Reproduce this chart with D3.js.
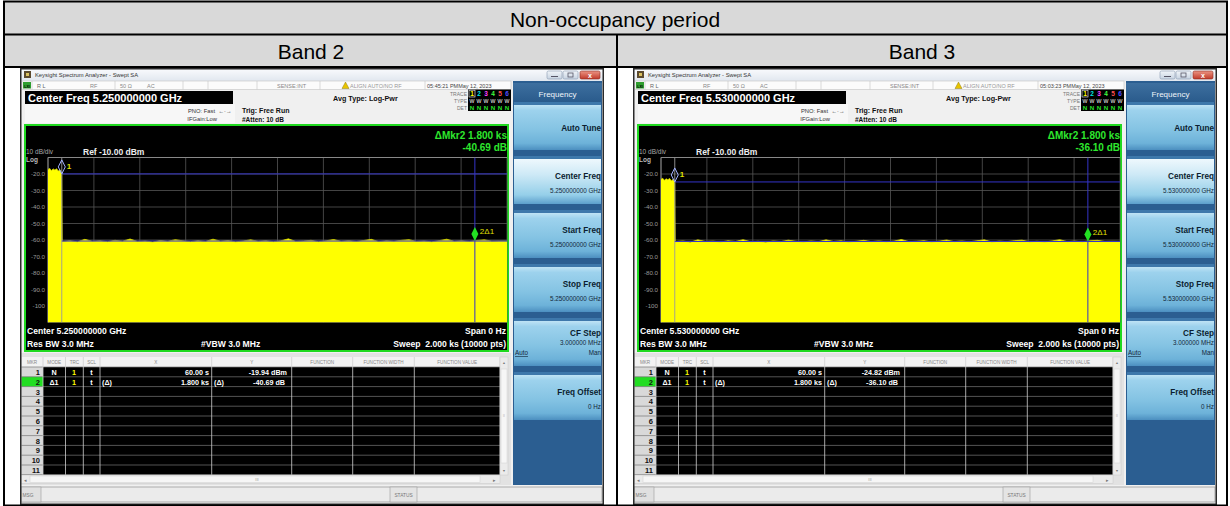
<!DOCTYPE html>
<html><head><meta charset="utf-8">
<script src="https://cdn.jsdelivr.net/npm/d3@7"></script>
<style>
body{margin:0;background:#fff;}
svg{display:block;font-family:"Liberation Sans",Arial,sans-serif;}
</style></head><body>
<svg id="c" width="1230" height="506"></svg>
<script>
// ---------------- data ----------------
const tableTitle = "Non-occupancy period";
const bandNames = ["Band 2", "Band 3"];
const centerFreqs = ["5.250000000 GHz", "5.530000000 GHz"];
const timeStamps = ["05:45:21 PM", "05:03:23 PM"];
const dateStamp = "May 12, 2023";
const marker1Time = [60, 60];            // s
const markerDeltaTime = [1800, 1800];    // s
const marker1Level = [-19.94, -24.82];   // dBm
const markerDeltaLevel = [-40.69, -36.10]; // dB
const sweepTime = 2000;                  // s
const refLevel = -10;
const bottomLevel = -110;
const yTickValues = [-20, -30, -40, -50, -60, -70, -80, -90, -100];
const band2Start = [-17.2, -16.6, -17.9, -16.9, -17.5, -16.8, -18.2, -17.4, -19.9];
const band3Start = [-23.2, -22.6, -23.8, -22.9, -23.5, -22.7, -24.1, -23.3, -24.8];
const band2Noise = [-60.9,-60.4,-61.1,-59.6,-60.8,-60.5,-61.0,-60.2,-60.7,-59.4,-60.9,-60.6,-61.2,-60.3,-60.8,-59.8,-60.5,-61.0,-60.4,-60.9,-59.5,-60.7,-60.3,-61.1,-60.6,-59.9,-60.8,-60.4,-61.0,-60.5,-59.3,-60.9,-60.6,-60.2,-61.0,-60.5,-59.7,-60.8,-60.4,-60.9,-60.3,-59.6,-61.0,-60.5,-60.8,-60.2,-59.8,-60.9,-60.6,-61.1,-60.4,-59.5,-60.8,-60.5,-60.9,-60.3,-59.9,-60.7,-60.6,-60.6];
const band3Noise = [-61.0,-60.6,-61.3,-59.9,-60.9,-60.7,-61.2,-60.5,-60.9,-59.8,-61.1,-60.8,-61.3,-60.6,-61.0,-60.1,-60.8,-61.2,-60.6,-61.0,-59.9,-60.9,-60.5,-61.2,-60.8,-60.2,-61.0,-60.6,-61.1,-60.7,-59.7,-61.0,-60.8,-60.4,-61.2,-60.7,-60.0,-61.0,-60.6,-61.1,-60.5,-59.9,-61.2,-60.7,-61.0,-60.4,-60.1,-61.1,-60.8,-61.2,-60.6,-59.8,-61.0,-60.7,-61.1,-60.5,-60.2,-60.9,-60.8,-60.9];
const startTraces = [band2Start, band3Start];
const noiseTraces = [band2Noise, band3Noise];
const softkeyLabels = ["Auto Tune", "Center Freq", "Start Freq", "Stop Freq", "CF Step", "Freq Offset"];
const cfStep = "3.000000 MHz";
const freqOffset = "0 Hz";
const tableHeaders = ["MKR", "MODE", "TRC", "SCL", "X", "Y", "FUNCTION", "FUNCTION WIDTH", "FUNCTION VALUE"];

// ---------------- helpers ----------------
const svg = d3.select("#c");
const defs = svg.append("defs");
function lg(id, stops) {
  const gr = defs.append("linearGradient").attr("id", id).attr("x1", 0).attr("y1", 0).attr("x2", 0).attr("y2", 1);
  stops.forEach(([o, c]) => gr.append("stop").attr("offset", o).attr("stop-color", c));
}
lg("titleG", [[0, "#fbfcfe"], [1, "#e1e7ef"]]);
lg("btnG", [[0, "#bfe3f5"], [0.12, "#9dd2ed"], [0.55, "#84c3e3"], [0.85, "#6db2d9"], [1, "#4c8fc0"]]);
lg("btnSelG", [[0, "#eef8fd"], [0.35, "#cde9f6"], [0.8, "#95cfe9"], [1, "#5c9ecb"]]);
lg("hdrG", [[0, "#3d6f9f"], [1, "#28598a"]]);
lg("minG", [[0, "#f1f5f9"], [1, "#c7d3e1"]]);
lg("closeG", [[0, "#ec9584"], [1, "#c13a2a"]]);

function T(g, x, y, s, o = {}) {
  const t = g.append("text").attr("x", x).attr("y", y).text(s)
    .attr("font-size", o.size || 7).attr("fill", o.fill || "#000")
    .attr("text-anchor", o.anchor || "start")
    .attr("font-weight", o.bold ? "bold" : "normal");
  if (o.pre) t.attr("xml:space", "preserve").style("white-space", "pre");
  return t;
}
function R(g, x, y, w, h, fill, stroke, sw) {
  const r = g.append("rect").attr("x", x).attr("y", y).attr("width", w).attr("height", h).attr("fill", fill);
  if (stroke) r.attr("stroke", stroke).attr("stroke-width", sw || 1);
  return r;
}
function L(g, x1, y1, x2, y2, c, w) {
  return g.append("line").attr("x1", x1).attr("y1", y1).attr("x2", x2).attr("y2", y2).attr("stroke", c).attr("stroke-width", w || 1);
}

// ---------------- outer table ----------------
R(svg, 4, 2, 1223, 65, "#d9d9d9");
T(svg, 615, 27, tableTitle, {size: 21, anchor: "middle"});
const bandCenters = [311, 922];
bandNames.forEach((b, i) => T(svg, bandCenters[i], 59, b, {size: 21, anchor: "middle"}));

// ---------------- analyzer screen ----------------
function drawScreen(i, ox, oy) {
  const g = svg.append("g").attr("transform", `translate(${ox},${oy})`);
  const W = 584, H = 437;
  R(g, 0, 0, W, H, "#f0f0f0");
  // title bar
  R(g, 0, 0, W, 13, "url(#titleG)");
  R(g, 4, 3, 7, 7, "#5b4a2e");
  R(g, 6, 5, 3, 3, "#d8c060");
  T(g, 15, 9, "Keysight Spectrum Analyzer - Swept SA", {size: 5.8, fill: "#333"});
  R(g, 527, 3, 15, 8, "url(#minG)", "#8798ae", 0.6).attr("rx", 1.5);
  R(g, 543, 3, 15, 8, "url(#minG)", "#8798ae", 0.6).attr("rx", 1.5);
  R(g, 560, 3, 20, 8, "url(#closeG)", "#8a2a20", 0.6).attr("rx", 1.5);
  L(g, 531, 8.5, 538, 8.5, "#556", 1);
  R(g, 548, 5, 5, 4, "none", "#556", 0.8);
  T(g, 570, 10, "x", {size: 7, fill: "#fff", anchor: "middle", bold: true});

  // status row
  R(g, 2, 13, 489, 8.5, "#fbfbfb", "#c4c4c4", 0.6);
  [12, 95, 163, 188, 237, 300, 405].forEach(xx => L(g, xx, 13, xx, 21.5, "#c4c4c4", 0.6));
  R(g, 3, 14, 8, 6.5, "#2f9e2f");
  T(g, 7, 19.5, "LXI", {size: 3.5, fill: "#000", anchor: "middle", bold: true});
  T(g, 17, 19.6, "R L", {size: 5.5, fill: "#666"});
  T(g, 70, 19.6, "RF", {size: 5.5, fill: "#888"});
  T(g, 100, 19.6, "50 Ω", {size: 5.5, fill: "#888"});
  T(g, 127, 19.6, "AC", {size: 5.5, fill: "#888"});
  T(g, 257, 19.6, "SENSE:INT", {size: 5.5, fill: "#888"});
  g.append("path").attr("d", "M322,20.5 L325.5,14 L329,20.5 Z").attr("fill", "#e8c400").attr("stroke", "#7a6400").attr("stroke-width", 0.4);
  T(g, 330, 19.6, "ALIGN AUTO/NO RF", {size: 5.5, fill: "#999"});
  T(g, 407, 19.6, timeStamps[i] + "May " + dateStamp.slice(4), {size: 5.5, fill: "#444"});

  // centre freq box
  R(g, 5, 23, 208, 13, "#000");
  T(g, 8, 33.5, "Center Freq " + centerFreqs[i], {size: 11, fill: "#fff", bold: true});
  R(g, 5, 36, 210, 19, "#f7f7f7");
  T(g, 195, 44.5, "PNO: Fast", {size: 5.8, fill: "#333", anchor: "end"});
  T(g, 205, 44.5, "←·→", {size: 5.5, fill: "#333", anchor: "middle"});
  T(g, 197, 53, "IFGain:Low", {size: 5.8, fill: "#333", anchor: "end"});
  T(g, 222, 45, "Trig: Free Run", {size: 7, fill: "#111", bold: true});
  T(g, 222, 53.5, "#Atten: 10 dB", {size: 6.5, fill: "#111", bold: true});
  T(g, 313, 33, "Avg Type: Log-Pwr", {size: 7.2, fill: "#111", bold: true});

  // trace block
  T(g, 447, 27.5, "TRACE", {size: 5, fill: "#777", anchor: "end"});
  T(g, 447, 34.5, "TYPE", {size: 5, fill: "#777", anchor: "end"});
  T(g, 447, 41.5, "DET", {size: 5, fill: "#777", anchor: "end"});
  R(g, 448, 21.5, 43, 21.5, "#000");
  const trColors = ["#ffff00", "#00e5e5", "#ff40ff", "#40ff40", "#ff5050", "#5050ff"];
  trColors.forEach((c, k) => {
    T(g, 452 + k * 7, 28.2, String(k + 1), {size: 6.5, fill: c, bold: true, anchor: "middle"});
    T(g, 452 + k * 7, 35, "W", {size: 5.2, fill: "#fff", anchor: "middle"});
    T(g, 452 + k * 7, 42, "N", {size: 6.2, fill: "#28e028", bold: true, anchor: "middle"});
  });
  R(g, 449, 22.2, 6, 6.8, "none", "#fff", 0.6);

  // graph frame
  R(g, 5, 57, 483, 226, "#000", "#1fd91f", 2);
  const gx0 = 28, gx1 = 487, gy0 = 89.5, gy1 = 254.5;
  const x = d3.scaleLinear().domain([0, sweepTime]).range([gx0, gx1]);
  const y = d3.scaleLinear().domain([bottomLevel, refLevel]).range([gy1, gy0]);

  T(g, 6, 86, "10 dB/div", {size: 6.5, fill: "#aaa"});
  T(g, 6, 93.5, "Log", {size: 6.5, fill: "#bbb", bold: true});
  T(g, 63, 86.5, "Ref " + refLevel.toFixed(2) + " dBm", {size: 8.5, fill: "#eee", bold: true});

  const m2Time = marker1Time[i] + markerDeltaTime[i];
  const m2Level = marker1Level[i] + markerDeltaLevel[i];
  T(g, 487, 71, "ΔMkr2 " + (markerDeltaTime[i] / 1000).toFixed(3) + " ks", {size: 10, fill: "#2ee82e", bold: true, anchor: "end"});
  T(g, 487, 83, markerDeltaLevel[i].toFixed(2) + " dB", {size: 10, fill: "#2ee82e", bold: true, anchor: "end"});

  // grid
  const grid = g.append("g");
  x.ticks(10).forEach(tv => L(grid, x(tv), gy0, x(tv), gy1, "#555", 0.8));
  y.ticks(10).forEach(tv => L(grid, gx0, y(tv), gx1, y(tv), "#555", 0.8));
  L(grid, gx0, gy0, gx1, gy0, "#888", 1);
  L(grid, gx0, gy0, gx0, gy1, "#888", 1);

  // y axis labels
  const ax = g.append("g").attr("transform", `translate(${gx0 - 1},0)`)
    .call(d3.axisLeft(y).tickValues(yTickValues).tickSize(0).tickPadding(2)
      .tickFormat(d => d <= -100 ? String(d) : d.toFixed(1)));
  ax.select(".domain").remove();
  ax.selectAll("text").attr("fill", "#9a9a9a").attr("font-size", 6.2)
    .attr("font-family", "'Liberation Sans',Arial,sans-serif");

  // trace
  const st = startTraces[i], nz = noiseTraces[i];
  const pts = st.map((v, k) => ({t: k * marker1Time[i] / (st.length - 1), v}))
    .concat(nz.map((v, k) => ({t: marker1Time[i] + 2 + k * (sweepTime - marker1Time[i] - 2) / (nz.length - 1), v})));
  const clipId = "clip" + i;
  defs.append("clipPath").attr("id", clipId).append("rect").attr("x", gx0).attr("y", gy0).attr("width", gx1 - gx0).attr("height", gy1 - gy0);
  const tg = g.append("g").attr("clip-path", `url(#${clipId})`);
  tg.append("path").datum(pts).attr("fill", "#ffff00")
    .attr("d", d3.area().x(d => x(d.t)).y0(y(bottomLevel)).y1(d => y(d.v)));
  tg.append("path").datum(pts).attr("fill", "none").attr("stroke", "#d6d600").attr("stroke-width", 0.8)
    .attr("d", d3.line().x(d => x(d.t)).y(d => y(d.v)));

  // marker lines
  L(tg, x(marker1Time[i]), y(marker1Level[i]), gx1, y(marker1Level[i]), "#3434c8", 1);
  L(tg, x(marker1Time[i]), y(m2Level), gx1, y(m2Level), "#3434c8", 1);
  L(tg, x(marker1Time[i]), gy0, x(marker1Time[i]), gy1, "#9a9a9a", 0.9);
  L(tg, x(m2Time), gy0, x(m2Time), gy1, "#3434c8", 1);

  // marker diamonds
  const d1x = x(marker1Time[i]), d1y = y(marker1Level[i]);
  g.append("path").attr("d", `M${d1x},${d1y} L${d1x + 3.5},${d1y - 7} L${d1x},${d1y - 14} L${d1x - 3.5},${d1y - 7} Z`)
    .attr("fill", "none").attr("stroke", "#a0b0ff").attr("stroke-width", 1);
  T(g, d1x + 5, d1y - 5, "1", {size: 8, fill: "#e0e000", bold: true});
  const d2x = x(m2Time), d2y = y(m2Level);
  g.append("path").attr("d", `M${d2x},${d2y} L${d2x + 3.5},${d2y - 7} L${d2x},${d2y - 14} L${d2x - 3.5},${d2y - 7} Z`)
    .attr("fill", "#22e022");
  T(g, d2x + 5, d2y - 7, "2Δ1", {size: 8, fill: "#e0e000"});

  // bottom annotations
  T(g, 7, 266, "Center " + centerFreqs[i], {size: 8.6, fill: "#fff", bold: true});
  T(g, 7, 278.5, "Res BW 3.0 MHz", {size: 8.6, fill: "#fff", bold: true});
  T(g, 181, 278.5, "#VBW 3.0 MHz", {size: 8.6, fill: "#fff", bold: true});
  T(g, 486, 266, "Span 0 Hz", {size: 8.6, fill: "#fff", bold: true, anchor: "end"});
  T(g, 486, 278.5, "Sweep  " + (sweepTime / 1000).toFixed(3) + " ks (10000 pts)", {size: 8.6, fill: "#fff", bold: true, anchor: "end", pre: true});

  // marker table
  R(g, 1, 285, 490, 132, "#e2e2e2");
  const cols = [1, 23, 45.5, 63.3, 80, 191.7, 271.7, 332.7, 394.3, 480];
  const hy = 289, rowH = 9.8, nRows = 11, ry0 = 299;
  R(g, 1, hy, 479, 10, "#f2f2f2");
  tableHeaders.forEach((h, k) => T(g, (cols[k] + cols[k + 1]) / 2, hy + 7, h, {size: 4.6, fill: "#888", anchor: "middle"}));
  R(g, 1, ry0, 479, rowH * nRows, "#000");
  R(g, 1, ry0, 22, rowH * nRows, "#d9d9d9");
  R(g, 1, ry0 + rowH, 22, rowH, "#22dd22");
  for (let r = 0; r <= nRows; r++) L(g, 1, ry0 + r * rowH, 480, ry0 + r * rowH, "#777", 0.7);
  cols.forEach(cx => L(g, cx, hy, cx, ry0 + rowH * nRows, "#cfcfcf", 0.8));
  for (let r = 0; r < nRows; r++) T(g, 20, ry0 + r * rowH + 8, String(r + 1), {size: 7.5, fill: "#111", bold: true, anchor: "end"});
  const wOpt = {size: 7.2, fill: "#fff", bold: true};
  const r1 = ry0 + 8, r2 = ry0 + rowH + 8;
  T(g, 34, r1, "N", {...wOpt, anchor: "middle"});
  T(g, 54, r1, "1", {...wOpt, fill: "#ffff00", anchor: "middle"});
  T(g, 71.5, r1, "t", {...wOpt, anchor: "middle"});
  T(g, 189, r1, marker1Time[i].toFixed(2) + " s", {...wOpt, anchor: "end"});
  T(g, 267, r1, marker1Level[i].toFixed(2) + " dBm", {...wOpt, anchor: "end"});
  T(g, 34, r2, "Δ1", {...wOpt, anchor: "middle"});
  T(g, 54, r2, "1", {...wOpt, fill: "#ffff00", anchor: "middle"});
  T(g, 71.5, r2, "t", {...wOpt, anchor: "middle"});
  T(g, 82, r2, "(Δ)", wOpt);
  T(g, 189, r2, (markerDeltaTime[i] / 1000).toFixed(3) + " ks", {...wOpt, anchor: "end"});
  T(g, 194, r2, "(Δ)", wOpt);
  T(g, 265, r2, markerDeltaLevel[i].toFixed(2) + " dB", {...wOpt, anchor: "end"});
  // scrollbars
  R(g, 480, hy, 8, 118, "#ebebeb", "#c8c8c8", 0.5);
  R(g, 481, hy + 12, 6, 94, "#f6f6f6", "#d0d0d0", 0.5);
  T(g, 484, hy + 7, "▲", {size: 3.5, fill: "#777", anchor: "middle"});
  T(g, 484, hy + 115, "▼", {size: 3.5, fill: "#777", anchor: "middle"});
  T(g, 484, hy + 60, "≡", {size: 4, fill: "#999", anchor: "middle"});
  R(g, 1, 407, 479, 8.5, "#ebebeb", "#c8c8c8", 0.5);
  R(g, 10, 408, 450, 6.5, "#f6f6f6", "#d0d0d0", 0.5);
  T(g, 5, 413.5, "◂", {size: 5, fill: "#777", anchor: "middle"});
  T(g, 474, 413.5, "▸", {size: 5, fill: "#777", anchor: "middle"});
  T(g, 237, 413, "III", {size: 4, fill: "#999", anchor: "middle"});

  // msg bar
  R(g, 1, 419, 581, 15, "#ebebeb", "#9c9c9c", 0.8);
  R(g, 1, 419, 20, 15, "#e0e0e0", "#9c9c9c", 0.6);
  T(g, 2.5, 428.5, "MSG", {size: 4.8, fill: "#777"});
  R(g, 370, 419, 27, 15, "#e4e4e4", "#9c9c9c", 0.6);
  T(g, 383.5, 428.5, "STATUS", {size: 4.8, fill: "#777", anchor: "middle"});

  // softkey panel
  R(g, 493, 13, 89, 404, "#2b5e91");
  R(g, 493, 15, 89, 21, "url(#hdrG)");
  T(g, 537.5, 28.5, "Frequency", {size: 8, fill: "#eef4fa", anchor: "middle"});
  const btnTops = [37, 91, 145, 199, 253, 307];
  const subVals = ["", centerFreqs[i], centerFreqs[i], centerFreqs[i], cfStep, freqOffset];
  softkeyLabels.forEach((lab, k) => {
    const top = btnTops[k];
    R(g, 494, top - 3, 87, 3, "#3e78ab");
    R(g, 494, top, 87, 45, k === 1 ? "url(#btnSelG)" : "url(#btnG)");
    const tOpt = {size: 8.2, fill: "#0b1e30", bold: true, anchor: "end"};
    const sOpt = {size: 6.3, fill: "#13273a", anchor: "end"};
    if (k === 0) {
      T(g, 581, top + 26, lab, tOpt);
    } else if (k === 4) {
      T(g, 581, top + 15, lab, tOpt);
      T(g, 581, top + 24, subVals[k], sOpt);
      T(g, 495, top + 34, "Auto", {size: 6.3, fill: "#13273a"}).attr("text-decoration", "underline");
      T(g, 581, top + 34, "Man", sOpt);
    } else {
      T(g, 581, top + 20, lab, tOpt);
      T(g, 581, top + 33.5, subVals[k], sOpt);
    }
  });

  // window frame
  R(g, 0.75, 0.75, W - 1.5, H - 1.5, "none", "#2a2a2a", 1.5);
}

drawScreen(0, 20, 68);
drawScreen(1, 633, 68);

// table lines (on top)
svg.append("rect").attr("x", 4).attr("y", 1.5).attr("width", 1223).attr("height", 504)
  .attr("fill", "none").attr("stroke", "#000").attr("stroke-width", 2);
L(svg, 4, 34.5, 1227, 34.5, "#000", 2);
L(svg, 4, 67, 1227, 67, "#000", 2);
L(svg, 617, 34.5, 617, 506, "#000", 2);
</script>
</body></html>
